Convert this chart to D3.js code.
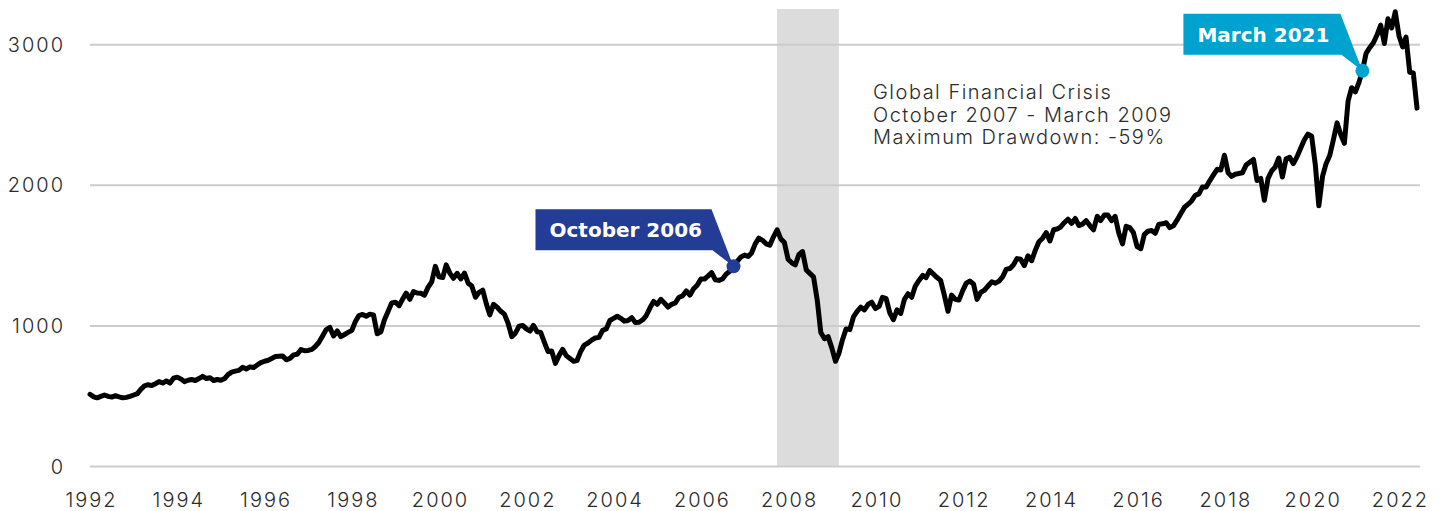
<!DOCTYPE html>
<html>
<head>
<meta charset="utf-8">
<script src="https://cdn.jsdelivr.net/npm/d3@7"></script>
<style>
  body { margin: 0; background: #fff; }
  svg { display: block; }
  .tick text { font-family: Inter, "Open Sans", sans-serif; font-weight: 300; font-size: 20px; letter-spacing: 2px; fill: #2b2b2b; }
  .note { font-family: Inter, "Open Sans", sans-serif; font-weight: 300; font-size: 20px; letter-spacing: 1.5px; fill: #2b2b2b; }
  .callout-text { font-family: "DejaVu Sans", sans-serif; font-weight: bold; font-size: 20px; fill: #fff; }
</style>
</head>
<body>
<svg id="chart" width="1446" height="511"></svg>
<script>
/* Index level (monthly) from Jan 1992 to Jun 2022.
   Month of each value = startMonth + position in the list. */
const startMonth = new Date(1992, 0, 1);

const levels1990s = [
  510, 492, 485, 495, 505, 495, 490, 500, 492, 485, 488, 495, // 1992
  505, 515, 545, 570, 578, 572, 585, 600, 590, 605, 590, 625, // 1993
  632, 618, 600, 610, 615, 608, 622, 638, 622, 628, 608, 615, // 1994
  610, 622, 650, 668, 675, 680, 702, 690, 705, 700, 718, 735, // 1995
  745, 752, 765, 778, 780, 782, 755, 765, 790, 795, 828, 820, // 1996
  822, 830, 850, 880, 925, 970, 985, 925, 960, 920, 935, 950, // 1997
  965, 1030, 1070, 1078, 1065, 1080, 1075, 940, 955, 1040, 1100, 1160, // 1998
  1165, 1140, 1185, 1230, 1185, 1240, 1230, 1228, 1215, 1270, 1310, 1420 // 1999
];

const levels2000s = [
  1345, 1340, 1430, 1370, 1335, 1370, 1330, 1372, 1300, 1280, 1200, 1235, // 2000
  1250, 1150, 1075, 1150, 1130, 1100, 1080, 1015, 920, 945, 995, 1000, // 2001
  975, 960, 1000, 955, 950, 880, 815, 818, 730, 785, 830, 785, // 2002
  765, 745, 750, 815, 860, 875, 895, 910, 915, 965, 975, 1035, // 2003
  1050, 1065, 1050, 1030, 1035, 1055, 1020, 1022, 1040, 1070, 1125, 1170, // 2004
  1150, 1185, 1160, 1130, 1150, 1160, 1200, 1210, 1245, 1215, 1260, 1285, // 2005
  1330, 1330, 1350, 1375, 1325, 1320, 1330, 1365, 1385, 1420, 1455, 1485, // 2006
  1500, 1490, 1515, 1580, 1620, 1605, 1580, 1570, 1630, 1680, 1615, 1590, // 2007
  1470, 1445, 1430, 1505, 1525, 1395, 1370, 1345, 1180, 950, 905, 920, // 2008
  840, 745, 800, 900, 975, 970, 1060, 1100, 1130, 1110, 1150, 1165 // 2009
];

const levels2010s = [
  1120, 1135, 1200, 1190, 1090, 1040, 1110, 1085, 1185, 1225, 1200, 1280, // 2010
  1320, 1355, 1340, 1390, 1365, 1340, 1320, 1215, 1100, 1215, 1185, 1180, // 2011
  1245, 1300, 1315, 1295, 1185, 1235, 1250, 1280, 1310, 1300, 1315, 1345, // 2012
  1400, 1405, 1430, 1475, 1470, 1425, 1495, 1460, 1535, 1595, 1620, 1660, // 2013
  1600, 1680, 1685, 1700, 1730, 1755, 1725, 1760, 1710, 1720, 1745, 1710, // 2014
  1680, 1775, 1745, 1785, 1785, 1745, 1775, 1655, 1580, 1705, 1695, 1660, // 2015
  1560, 1545, 1645, 1670, 1675, 1655, 1720, 1722, 1730, 1695, 1710, 1750, // 2016
  1795, 1840, 1860, 1885, 1925, 1935, 1985, 1985, 2030, 2070, 2110, 2105, // 2017
  2210, 2085, 2060, 2075, 2080, 2085, 2140, 2160, 2180, 2030, 2045, 1890, // 2018
  2045, 2100, 2125, 2190, 2055, 2185, 2195, 2150, 2200, 2260, 2320, 2360 // 2019
];

const levels2020s = [
  2345, 2140, 1850, 2060, 2150, 2210, 2320, 2440, 2355, 2295, 2595, 2690, // 2020
  2660, 2730, 2810, 2935, 2975, 3010, 3065, 3135, 3005, 3180, 3115, 3230, // 2021
  3060, 2980, 3050, 2800, 2795, 2545 // 2022
];

const yTicks = [0, 1000, 2000, 3000];
const xTickYears = [1992, 1994, 1996, 1998, 2000, 2002, 2004, 2006, 2008, 2010, 2012, 2014, 2016, 2018, 2020, 2022];

// Global Financial Crisis shading, first and last month
const crisisMonths = [new Date(2007, 9, 1), new Date(2009, 2, 1)];
const crisisNote = ["Global Financial Crisis", "October 2007 - March 2009", "Maximum Drawdown: -59%"];

// Highlighted months
const calloutLabels = ["October 2006", "March 2021"];
const calloutMonths = [new Date(2006, 9, 1), new Date(2021, 2, 1)];

/* Build the series */
const levels = levels1990s.concat(levels2000s, levels2010s, levels2020s);
const series = levels.map((v, i) => ({
  date: new Date(startMonth.getFullYear(), startMonth.getMonth() + i, 1),
  value: v,
}));

const svg = d3.select("#chart");
const plotLeft = 90,
  plotRight = 1420,
  plotTop = 9,
  plotBottom = 466;

const x = d3
  .scaleTime()
  .domain([series[0].date, series[series.length - 1].date])
  .range([plotLeft, 1417]);

const y = d3.scaleLinear().domain([0, 3250]).range([plotBottom, plotTop]);

// crisis band behind everything
svg
  .append("rect")
  .attr("x", x(crisisMonths[0]))
  .attr("y", y(3250))
  .attr("width", x(crisisMonths[1]) - x(crisisMonths[0]))
  .attr("height", y(0) - y(3250))
  .attr("fill", "#dcdcdc");

// y axis with grid lines
const yAxis = d3
  .axisLeft(y)
  .tickValues(yTicks)
  .tickSize(-(plotRight - plotLeft))
  .tickPadding(25)
  .tickFormat(d3.format("d"));

svg
  .append("g")
  .attr("transform", `translate(${plotLeft},0)`)
  .call(yAxis)
  .call((g) => g.select(".domain").remove())
  .call((g) => g.selectAll(".tick line").attr("stroke", "#cccccc").attr("stroke-width", 2))
  .call((g) => g.selectAll(".tick text").attr("dy", "0.36em"));

// x axis, labels only
const xAxis = d3
  .axisBottom(x)
  .tickValues(xTickYears.map((yr) => new Date(yr, 0, 1)))
  .tickSize(0)
  .tickPadding(27)
  .tickFormat(d3.timeFormat("%Y"));

svg
  .append("g")
  .attr("transform", `translate(0,${plotBottom})`)
  .call(xAxis)
  .call((g) => g.select(".domain").remove())
  .call((g) => g.selectAll(".tick text").attr("dx", "1px"));

// crisis note
svg
  .append("text")
  .attr("class", "note")
  .attr("x", 873)
  .attr("y", 99)
  .selectAll("tspan")
  .data(crisisNote)
  .join("tspan")
  .attr("x", 873)
  .attr("dy", (d, i) => (i === 0 ? 0 : 22.5))
  .text((d) => d);

// the index line
const line = d3
  .line()
  .x((d) => x(d.date))
  .y((d) => y(d.value));

svg
  .append("path")
  .datum(series)
  .attr("d", line)
  .attr("fill", "none")
  .attr("stroke", "#000")
  .attr("stroke-width", 5)
  .attr("stroke-linejoin", "round")
  .attr("stroke-linecap", "round");

// callouts: flag with a tail pointing at the dot
const calloutColors = ["#233c96", "#00a3cf"];
const calloutWidths = [198, 179];

calloutLabels.forEach(function (label, i) {
  const point = series.find((d) => +d.date === +calloutMonths[i]);
  const cx = x(point.date),
    cy = y(point.value);
  const left = cx - calloutWidths[i],
    top = cy - 57,
    bottom = cy - 16;

  svg
    .append("polygon")
    .attr(
      "points",
      [
        [left, top],
        [cx - 22, top],
        [cx, cy],
        [cx - 21, bottom],
        [left, bottom],
      ].join(" ")
    )
    .attr("fill", calloutColors[i]);

  svg
    .append("circle")
    .attr("cx", cx)
    .attr("cy", cy)
    .attr("r", 7)
    .attr("fill", calloutColors[i]);

  svg
    .append("text")
    .attr("class", "callout-text")
    .attr("x", left + 14)
    .attr("y", cy - 29)
    .text(label);
});
</script>
</body>
</html>
